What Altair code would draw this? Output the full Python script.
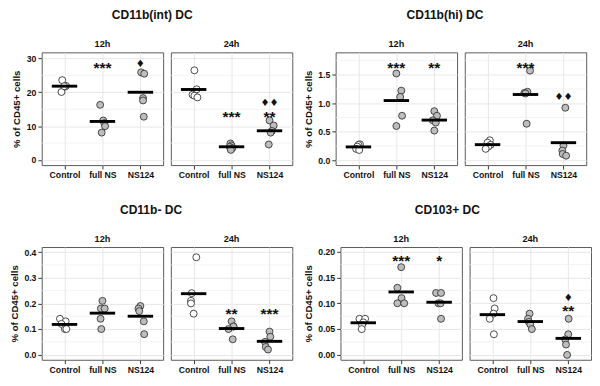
import altair as alt
import pandas as pd

groups = ["Control", "full NS", "NS124"]
FONT = "Liberation Sans"

# ---- values ----
int_12h = {"Control": [23.6, 21.7, 20.1, 21.9, 21.8],
           "full NS": [16.3, 11.7, 10.9, 10.0, 8.1],
           "NS124": [25.9, 25.5, 18.3, 17.6, 12.8]}
int_24h = {"Control": [26.5, 20.9, 19.3, 19.0, 18.5],
           "full NS": [4.9, 4.3, 3.9, 3.5, 3.0],
           "NS124": [11.7, 10.2, 8.6, 8.1, 4.6]}
hi_12h = {"Control": [0.28, 0.27, 0.24, 0.20, 0.18],
          "full NS": [1.52, 1.22, 1.11, 0.78, 0.60],
          "NS124": [0.86, 0.78, 0.70, 0.66, 0.52]}
hi_24h = {"Control": [0.35, 0.31, 0.27, 0.24, 0.20],
          "full NS": [1.57, 1.20, 1.18, 1.17, 0.64],
          "NS124": [0.92, 0.26, 0.17, 0.11, 0.08]}
neg_12h = {"Control": [0.14, 0.13, 0.12, 0.10, 0.10],
           "full NS": [0.21, 0.18, 0.18, 0.14, 0.10],
           "NS124": [0.19, 0.18, 0.17, 0.13, 0.08]}
neg_24h = {"Control": [0.38, 0.24, 0.21, 0.20, 0.16],
           "full NS": [0.13, 0.11, 0.11, 0.10, 0.06],
           "NS124": [0.09, 0.07, 0.05, 0.03, 0.02]}
cd103_12h = {"Control": [0.07, 0.07, 0.063, 0.058, 0.05],
             "full NS": [0.17, 0.13, 0.11, 0.10, 0.10],
             "NS124": [0.12, 0.12, 0.10, 0.10, 0.07]}
cd103_24h = {"Control": [0.11, 0.09, 0.08, 0.07, 0.04],
             "full NS": [0.08, 0.07, 0.064, 0.059, 0.05],
             "NS124": [0.07, 0.04, 0.03, 0.02, 0.0]}

# horizontal jitter of each point (fraction of a category step)
jit_int_12h = {"Control": [-0.06, 0.02, -0.08, 0.04, -0.01], "full NS": [-0.06, 0.02, 0.05, 0.07, -0.02], "NS124": [0.02, 0.10, 0.07, 0.07, 0.09]}
jit_int_24h = {"Control": [0.02, 0.08, -0.03, 0.02, 0.10], "full NS": [-0.03, 0.0, -0.05, 0.02, -0.02], "NS124": [0.0, 0.11, 0.06, 0.03, -0.02]}
jit_hi_12h = {"Control": [0.04, 0.0, -0.03, -0.06, 0.02], "full NS": [0.0, 0.13, 0.10, 0.15, 0.0], "NS124": [0.0, 0.07, -0.04, 0.04, 0.0]}
jit_hi_24h = {"Control": [0.06, 0.0, 0.08, 0.02, -0.05], "full NS": [0.12, 0.05, -0.03, 0.0, 0.03], "NS124": [0.05, 0.0, -0.03, -0.02, 0.07]}
jit_neg_12h = {"Control": [-0.12, 0.03, -0.08, 0.01, 0.05], "full NS": [0.0, -0.04, 0.06, -0.05, -0.03], "NS124": [0.0, -0.05, -0.03, 0.09, 0.10]}
jit_neg_24h = {"Control": [0.07, -0.05, -0.07, -0.07, 0.0], "full NS": [0.0, 0.05, 0.05, -0.08, 0.03], "NS124": [0.0, 0.02, -0.12, -0.10, -0.04]}
jit_cd103_12h = {"Control": [-0.10, 0.05, 0.0, -0.03, -0.04], "full NS": [0.0, -0.10, 0.01, -0.10, 0.08], "NS124": [-0.08, 0.05, -0.02, 0.04, 0.05]}
jit_cd103_24h = {"Control": [0.03, 0.06, 0.03, -0.07, 0.04], "full NS": [-0.02, -0.06, -0.04, 0.0, 0.04], "NS124": [0.01, 0.0, -0.08, -0.06, -0.03]}

# significance marks: (group, text, y)
ann_int_12h = [("full NS", "***", 28.2), ("NS124", "♦", 28.2)]
ann_int_24h = [("full NS", "***", 13.9), ("NS124", "**", 13.9), ("NS124", "♦♦", 16.8)]
ann_hi_12h = [("full NS", "***", 1.68), ("NS124", "**", 1.68)]
ann_hi_24h = [("full NS", "***", 1.68), ("NS124", "♦♦", 1.10)]
ann_neg_12h = []
ann_neg_24h = [("full NS", "**", 0.172), ("NS124", "***", 0.172)]
ann_cd103_12h = [("full NS", "***", 0.189), ("NS124", "*", 0.189)]
ann_cd103_24h = [("NS124", "**", 0.092), ("NS124", "♦", 0.111)]

titles = ["CD11b(int) DC", "CD11b(hi) DC", "CD11b- DC", "CD103+ DC"]
y_domains = [[-1.5, 31.8], [-0.085, 1.89], [-0.02, 0.42], [-0.0095, 0.209]]
y_ticks = [[0, 10, 20, 30], [0, 0.5, 1.0, 1.5], [0, 0.1, 0.2, 0.3, 0.4], [0, 0.05, 0.10, 0.15, 0.20]]
y_minor = [[5, 15, 25], [0.25, 0.75, 1.25, 1.75], [0.05, 0.15, 0.25, 0.35], [0.025, 0.075, 0.125, 0.175]]
y_formats = ["d", ".1f", ".1f", ".2f"]

PW, PH = 126, 117
label_expr = " : ".join(f"datum.value == {i+1} ? '{g}'" for i, g in enumerate(groups)) + " : ''"


def panel(values, jitter, ann, ydom, yticks, yminor, fmt, time, show_y):
    rows = []
    for gi, g in enumerate(groups):
        for v, j in zip(values[g], jitter[g]):
            rows.append({"pos": gi + 1, "x": gi + 1 + j, "value": v,
                         "kind": "Control" if g == "Control" else "Treated"})
    df = pd.DataFrame(rows)
    adf = pd.DataFrame([{"x": groups.index(g) + 1, "value": y, "label": t,
                         "dia": "♦" in t} for g, t, y in ann]
                       ) if ann else pd.DataFrame({"x": [], "value": [], "label": [], "dia": []})
    mdf = pd.DataFrame({"value": yminor})

    xs = alt.Scale(domain=[0.4, 3.6], nice=False, zero=False)
    ys = alt.Scale(domain=ydom, nice=False, zero=False)
    if show_y:
        yaxis = alt.Axis(values=yticks, format=fmt, title="% of CD45+ cells", grid=True)
    else:
        yaxis = alt.Axis(values=yticks, labels=False, ticks=False, domain=False, title=None, grid=True)
    xaxis = alt.Axis(values=[1, 2, 3], labelExpr=label_expr, title=None, grid=True)

    minor = alt.Chart(mdf).mark_rule(color="#EDEDED", strokeWidth=0.7).encode(
        y=alt.Y("value:Q", scale=ys, axis=yaxis))
    pts = alt.Chart(df).mark_circle(size=52, stroke="#333333", strokeWidth=0.9, opacity=1).encode(
        x=alt.X("x:Q", scale=xs, axis=xaxis),
        y=alt.Y("value:Q", scale=ys, axis=yaxis),
        color=alt.Color("kind:N", scale=alt.Scale(domain=["Control", "Treated"], range=["white", "#BDBDBD"]), legend=None))
    means = alt.Chart(df).transform_aggregate(
        value="mean(value)", groupby=["pos"]
    ).transform_calculate(x1="datum.pos - 0.335", x2="datum.pos + 0.335").mark_rule(
        color="black", strokeWidth=3).encode(
        x=alt.X("x1:Q", scale=xs, axis=xaxis), x2="x2:Q",
        y=alt.Y("value:Q", scale=ys, axis=yaxis))
    layers = [minor, pts, means]
    if ann:
        stars = alt.Chart(adf).transform_filter("!datum.dia").mark_text(
            font=FONT, fontSize=16, fontWeight="bold", color="#111", baseline="middle", dy=4).encode(
            x=alt.X("x:Q", scale=xs, axis=xaxis), y=alt.Y("value:Q", scale=ys, axis=yaxis), text="label:N")
        dias = alt.Chart(adf).transform_filter("datum.dia").mark_text(
            font="DejaVu Sans", fontSize=10.5, color="#111", baseline="middle", dy=0).encode(
            x=alt.X("x:Q", scale=xs, axis=xaxis), y=alt.Y("value:Q", scale=ys, axis=yaxis), text="label:N")
        layers += [stars, dias]
    return alt.layer(*layers).properties(
        width=PW, height=PH,
        title=alt.TitleParams(time, fontSize=9.5, fontWeight="bold", font=FONT, offset=4, color="#111"))


def block(i, v12, v24, j12, j24, a12, a24):
    p12 = panel(v12, j12, a12, y_domains[i], y_ticks[i], y_minor[i], y_formats[i], "12h", True)
    p24 = panel(v24, j24, a24, y_domains[i], y_ticks[i], y_minor[i], y_formats[i], "24h", False)
    return alt.hconcat(p12, p24, spacing=6).properties(
        title=alt.TitleParams(titles[i], anchor="middle", fontSize=12.5, fontWeight="bold",
                              font=FONT, color="#111", offset=18))


A = block(0, int_12h, int_24h, jit_int_12h, jit_int_24h, ann_int_12h, ann_int_24h)
B = block(1, hi_12h, hi_24h, jit_hi_12h, jit_hi_24h, ann_hi_12h, ann_hi_24h)
C = block(2, neg_12h, neg_24h, jit_neg_12h, jit_neg_24h, ann_neg_12h, ann_neg_24h)
D = block(3, cd103_12h, cd103_24h, jit_cd103_12h, jit_cd103_24h, ann_cd103_12h, ann_cd103_24h)

chart = alt.vconcat(
    alt.hconcat(A, B, spacing=9),
    alt.hconcat(C, D, spacing=9),
    spacing=24,
).properties(padding={"top": -6, "left": 0, "right": 0, "bottom": 0}).configure_view(
    stroke="#555555", strokeWidth=1
).configure_axis(
    labelFont=FONT, labelFontSize=9, labelFontWeight="bold", labelColor="#111",
    titleFont=FONT, titleFontSize=10, titleFontWeight="bold", titleColor="#111",
    tickColor="#333333", tickSize=4, domain=False, gridColor="#E6E6E6", gridWidth=1,
    labelPadding=2, titlePadding=5
)

chart.save("out.html", embed_options={"renderer": "svg", "actions": False})
